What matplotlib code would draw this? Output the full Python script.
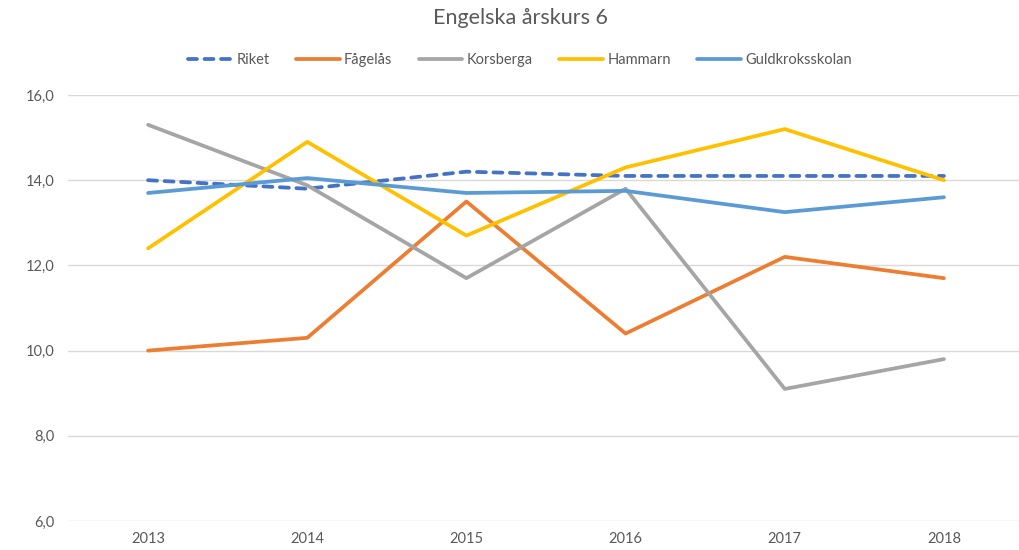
import matplotlib
matplotlib.use("Agg")
import matplotlib.pyplot as plt

years = ["2013", "2014", "2015", "2016", "2017", "2018"]
riket = [14.0, 13.8, 14.2, 14.1, 14.1, 14.1]
fagelas = [10.0, 10.3, 13.5, 10.4, 12.2, 11.7]
korsberga = [15.3, 13.88, 11.7, 13.8, 9.1, 9.8]
hammarn = [12.4, 14.9, 12.7, 14.3, 15.2, 14.0]
guld = [13.7, 14.05, 13.7, 13.75, 13.25, 13.6]
yticks = [6, 8, 10, 12, 14, 16]

plt.rcParams['font.family'] = ['Lato', 'DejaVu Sans']

fig = plt.figure(figsize=(10.2, 5.5), dpi=100)
ax = fig.add_axes([68.5/1020, 1-521/550, (1023.5-68.5)/1020, (521-95)/550])
x = list(range(len(years)))
lw = 2.7
series = [
    ("Riket", riket, "#4472C4", (0, (2.4, 2.0))),
    ("Fågelås", fagelas, "#ED7D31", "-"),
    ("Korsberga", korsberga, "#A5A5A5", "-"),
    ("Hammarn", hammarn, "#FFC000", "-"),
    ("Guldkroksskolan", guld, "#5B9BD5", "-"),
]
handles = []
for name, vals, col, ls in series:
    h, = ax.plot(x, vals, color=col, lw=lw, ls=ls, label=name,
                 solid_capstyle='round', dash_capstyle='round')
    handles.append(h)

ax.set_xlim(-0.5, len(years) - 0.5)
ax.set_ylim(6, 16)
ax.set_yticks(yticks)
ax.set_yticklabels([f"{v:.1f}".replace(".", ",") for v in yticks])
ax.set_xticks(x)
ax.set_xticklabels(years)
ax.yaxis.grid(True, color="#D9D9D9", lw=1)
ax.set_axisbelow(True)
for s in ax.spines.values():
    s.set_visible(False)
ax.tick_params(length=0, labelsize=10.5, colors="#595959", pad=8)
ax.tick_params(axis='y', pad=10)

fig.text(520/1020, 1-18/550, "Engelska årskurs 6", ha="center", va="center",
         fontsize=15.5, color="#595959")
fig.legend(handles=handles, loc="center", bbox_to_anchor=(520/1020, 1-60/550),
           ncol=5, frameon=False, fontsize=10.5, labelcolor="#595959",
           handlelength=3.0, handletextpad=0.3, columnspacing=1.8)

fig.savefig("out.png", dpi=100)
